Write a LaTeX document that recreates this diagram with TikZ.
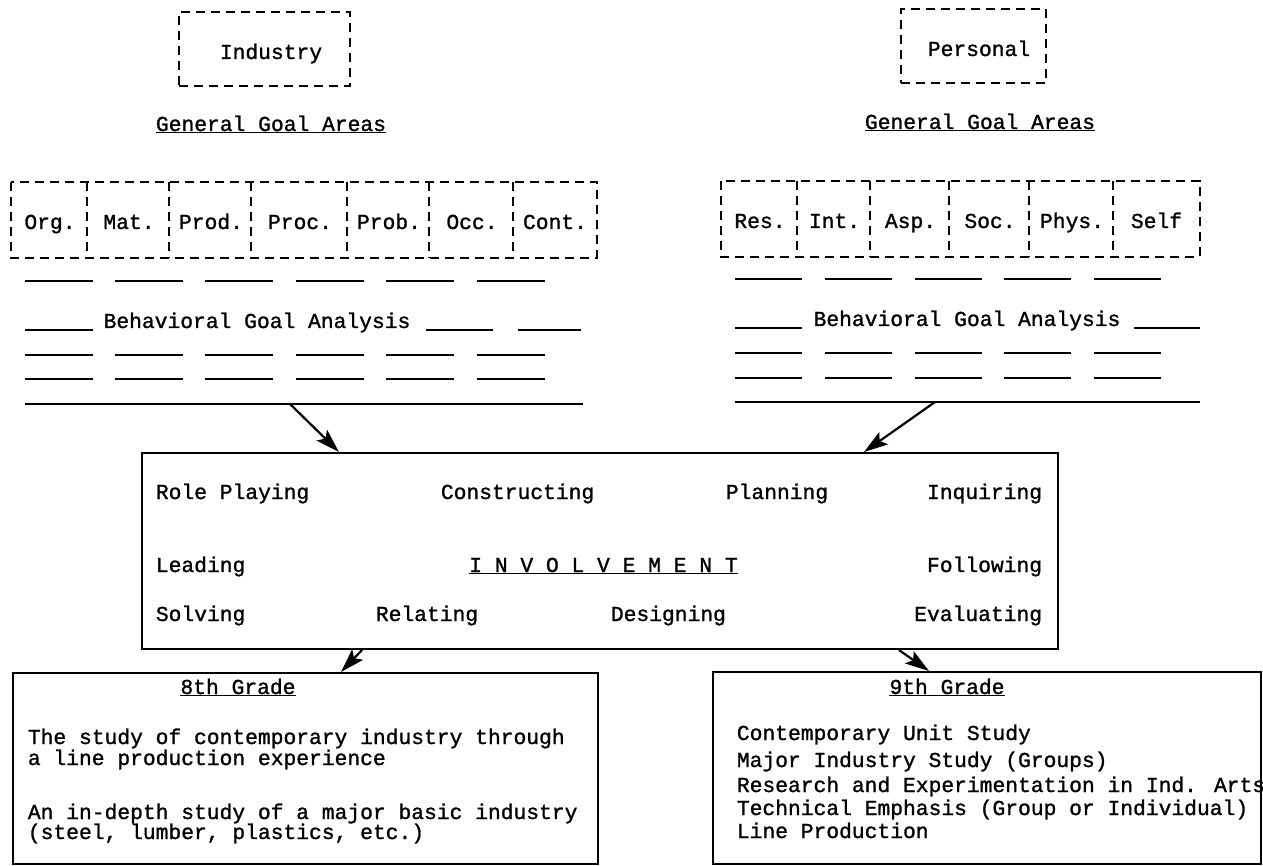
\documentclass[tikz,border=0pt]{standalone}
\usepackage{fontspec}
\setmainfont{Liberation Mono}[FakeBold=1.2]
\usetikzlibrary{arrows.meta}

\begin{document}
\begin{tikzpicture}[x=1pt, y=-1pt, line width=1.8pt,
   every node/.style={font=\fontsize{21.3}{24}\selectfont, inner sep=0pt},
   dashed line/.style={dash pattern=on 9pt off 6pt, line width=1.8pt},
   dashbox/.style={draw, dashed line},
   cell/.style={minimum height=74pt, text height=20pt, text depth=2pt},
   solidbox/.style={draw, line width=2pt},
   arr/.style={-{Stealth[length=24pt,width=15pt,inset=5pt]}, line width=2.2pt}]
 \useasboundingbox (0,0) rectangle (1263,866);

 % industry side
 \node[dashbox, minimum width=171pt, minimum height=74pt] (ind) at (264.5,49) {};
 \node[anchor=base] at (271,59) {Industry};
 \node[anchor=base] (iga) at (271,131) {\underline{General Goal Areas}};
 \node[cell, minimum width=76pt] (org)  at (50,220)  {Org.};
 \node[cell, minimum width=82pt] (mat)  at (129,220) {Mat.};
 \node[cell, minimum width=82pt] (prod) at (211,220) {Prod.};
 \node[cell, minimum width=96pt] (proc) at (300,220) {Proc.};
 \node[cell, minimum width=82pt] (prob) at (389,220) {Prob.};
 \node[cell, minimum width=84pt] (occ)  at (472,220) {Occ.};
 \node[cell, minimum width=82pt] (cont) at (555,220) {Cont.};
 \draw[dashed line] (org.north west) rectangle (cont.south east);
 \foreach \c in {mat,prod,proc,prob,occ,cont}
   \draw[dashed line] (\c.north west) -- (\c.south west);
 \foreach \x in {25,115,205,296,386,477}
   \foreach \y in {281,355,379}
     \draw (\x,\y) -- ++(68,0);
 \draw (25,330) -- ++(68,0);
 \node[anchor=base] (ibga) at (257,328) {Behavioral Goal Analysis};
 \draw (426,330) -- (493,330);
 \draw (518,330) -- (581,330);
 \draw (25,404) -- (583,404);
 \coordinate (ifrom) at (290,404);

 % personal side
 \node[dashbox, minimum width=145pt, minimum height=74pt] (pers) at (973.5,46) {};
 \node[anchor=base] at (979,56) {Personal};
 \node[anchor=base] (pga) at (980,129) {\underline{General Goal Areas}};
 \node[cell, minimum width=76pt] (res)  at (760,219)    {Res.};
 \node[cell, minimum width=73pt] (int)  at (834.5,219)  {Int.};
 \node[cell, minimum width=79pt] (asp)  at (910.5,219)  {Asp.};
 \node[cell, minimum width=80pt] (soc)  at (990,219)    {Soc.};
 \node[cell, minimum width=84pt] (phys) at (1072,219)   {Phys.};
 \node[cell, minimum width=85pt] (self) at (1156.5,219) {Self};
 \draw[dashed line] (res.north west) rectangle (self.south east);
 \foreach \c in {int,asp,soc,phys,self}
   \draw[dashed line] (\c.north west) -- (\c.south west);
 \foreach \x in {735,825,915,1004,1094}
   \foreach \y in {279,353,378}
     \draw (\x,\y) -- ++(67,0);
 \draw (735,328) -- ++(67,0);
 \node[anchor=base] (pbga) at (967,326) {Behavioral Goal Analysis};
 \draw (1134,328) -- (1200,328);
 \draw (735,402) -- (1200,402);
 \coordinate (pfrom) at (935,402);

 % involvement
 \node[solidbox, minimum width=916pt, minimum height=196pt] (inv) at (600,551) {};
 \draw[arr] (ifrom) -- ([xshift=198pt]inv.north west);
 \draw[arr] (pfrom) -- ([xshift=723pt]inv.north west);
 \node[anchor=base west] at (155,499) {Role Playing};
 \node[anchor=base west] at (440,499) {Constructing};
 \node[anchor=base west] at (725,499) {Planning};
 \node[anchor=base east] at (1043,499) {Inquiring};
 \node[anchor=base west] at (155,572) {Leading};
 \node[anchor=base] at (603.5,572) {\underline{I N V O L V E M E N T}};
 \node[anchor=base east] at (1043,572) {Following};
 \node[anchor=base west] at (155,621) {Solving};
 \node[anchor=base west] at (375,621) {Relating};
 \node[anchor=base west] at (610,621) {Designing};
 \node[anchor=base east] at (1043,621) {Evaluating};

 % grades
 \node[solidbox, minimum width=585pt, minimum height=191pt] (g8) at (305.5,768.5) {};
 \node[solidbox, minimum width=548pt, minimum height=192pt] (g9) at (987,768) {};
 \draw[arr] ([xshift=221pt]inv.south west) -- ([xshift=329pt]g8.north west);
 \draw[arr] ([xshift=758pt]inv.south west) -- ([xshift=217pt]g9.north west);
 \node[anchor=base] at (238,694) {\underline{8th Grade}};
 \node[anchor=base west] at (27,744) {The study of contemporary industry through};
 \node[anchor=base west] at (27,765) {a line production experience};
 \node[anchor=base west] at (27,819) {An in-depth study of a major basic industry};
 \node[anchor=base west] at (27,839) {(steel, lumber, plastics, etc.)};
 \node[anchor=base] at (947,694) {\underline{9th Grade}};
 \node[anchor=base west] at (736,740) {Contemporary Unit Study};
 \node[anchor=base west] at (736,767) {Major Industry Study (Groups)};
 \node[anchor=base west] at (736,792) {Research and Experimentation in Ind. Arts};
 \node[anchor=base west] at (736,815) {Technical Emphasis (Group or Individual)};
 \node[anchor=base west] at (736,838) {Line Production};
\end{tikzpicture}
\end{document}
